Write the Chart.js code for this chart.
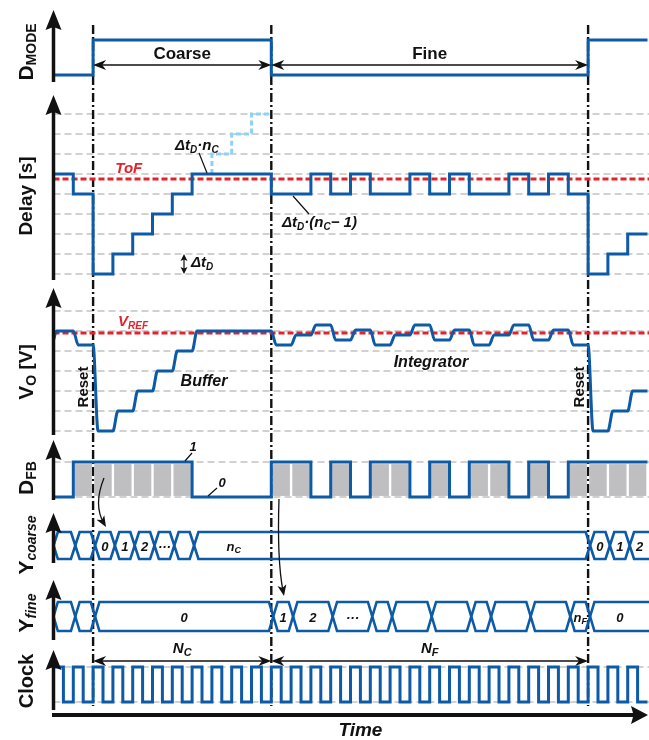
<!DOCTYPE html>
<html>
<head>
<meta charset="utf-8">
<script src="https://cdn.jsdelivr.net/npm/chart.js@4.4.1/dist/chart.umd.min.js"></script>
<style>
  html, body { margin: 0; padding: 0; background: #fff; }
</style>
</head>
<body>
<canvas id="timing" width="649" height="740"></canvas>
<script>
// one value per clock period, t = 0 .. 29
const modeLevels  = [0,0,1,1,1,1,1,1,1,1,1,0,0,0,0,0,0,0,0,0,0,0,0,0,0,0,0,1,1,1];
const delayLevels = [5,4,0,1,2,3,4,5,5,5,5,4,4,5,4,5,4,4,5,4,5,4,4,5,4,5,4,0,1,2];
const overshootPeriods = [8,8,9,10,11];
const overshootLevels  = [5,6,7,8,8];
const tofLevel = 4.75;
const voStart = 4.55;
const voLevels = [5,4.3,0,1,2,3,4,5,5,5,5,4.3,4.8,5.3,4.55,5.05,4.3,4.8,5.3,4.55,5.05,4.3,4.8,5.3,4.55,5.05,4.3,0,1,2];
const vrefLevel = 4.9;
const fbLevels = [0,1,1,1,1,1,1,0,0,0,0,1,1,0,1,0,1,1,0,1,0,1,1,0,1,0,1,1,1,1];
// half periods
const clockLevels = [1,0,1,0,1,0,1,0,1,0,1,0,1,0,1,0,1,0,1,0,1,0,1,0,1,0,1,0,1,0,
                     1,0,1,0,1,0,1,0,1,0,1,0,1,0,1,0,1,0,1,0,1,0,1,0,1,0,1,0,1,0];
// bus values: code changes at each edge, first code is before the first edge
const coarseEdges = [1,2,3,4,5,6,7,27,28,29];
const coarseCodes = ['','','0','1','2','···','','n_C','0','1','2'];
const fineEdges = [1,2,11,12,14,16,17,19,21,22,24,26,27];
const fineCodes = ['','','0','1','2','···','','','','','','','n_F','0'];
const phaseEdges = [2, 11, 27];
const phaseNames = ['Coarse', 'Fine'];
const countNames = ['N_C', 'N_F'];
const delayGrid = [0,1,2,3,4,5,6,7,8];
const voGrid = [0,1,2,3,4,5,6];

// layout
const t0px = 53.5, periodPx = 19.8;
const xMin = -t0px / periodPx, xMax = (649 - t0px) / periodPx;
const rows = {
  mode:   { base: 75,  unit: 35 },
  delay:  { base: 274, unit: 20 },
  vo:     { base: 431, unit: 20 },
  fb:     { base: 497, unit: 35 },
  coarse: { top: 532, bottom: 559 },
  fine:   { top: 602, bottom: 631 },
  clock:  { base: 702, unit: 35 },
};
const lvl = (row, v) => row.base - v * row.unit;
const blue = '#0d5aa7', red = '#e3222c', grid = '#a3a3a3', ink = '#111';
const busHalf = 0.22, busLag = 0.1, ramp = 0.25;
const F = (size, italic) => (italic ? 'italic ' : '') + 'bold ' + size + 'px "Liberation Sans", Arial, sans-serif';

const stepPoints = (levels, row, dx) => {
  const pts = levels.map((v, i) => ({ x: i * dx, y: lvl(row, v) }));
  pts.push({ x: levels.length * dx, y: lvl(row, levels[levels.length - 1]) });
  return pts;
};
const flat = (row, v) => [{ x: 0, y: lvl(row, v) }, { x: xMax, y: lvl(row, v) }];

const voPoints = [{ x: 0, y: lvl(rows.vo, voStart) }, { x: 0.15, y: lvl(rows.vo, voLevels[0]) }];
for (let t = 1; t < voLevels.length; t++) {
  voPoints.push({ x: t, y: lvl(rows.vo, voLevels[t - 1]) }, { x: t + ramp, y: lvl(rows.vo, voLevels[t]) });
}
voPoints.push({ x: voLevels.length, y: lvl(rows.vo, voLevels[voLevels.length - 1]) });

function busLine(edges, row, side) {
  const mid = (row.top + row.bottom) / 2, y = row[side];
  const pts = [{ x: 0, y: mid }, { x: busHalf, y: y }];
  edges.forEach(e => {
    const c = e + busLag;
    pts.push({ x: c - busHalf, y: y }, { x: c, y: mid }, { x: c + busHalf, y: y });
  });
  pts.push({ x: xMax, y: y });
  return pts;
}

const fbBars = [];
fbLevels.forEach((v, t) => {
  if (v) fbBars.push({ x: t + 0.5, y: [lvl(rows.fb, 0.03), lvl(rows.fb, 0.94)] });
});

const line = (data, extra) => Object.assign({
  type: 'line', data: data, borderColor: blue, borderWidth: 3, pointRadius: 0,
  fill: false, tension: 0,
}, extra || {});

function arrowHead(ctx, x, y, ang, len, half, notch) {
  const c = Math.cos(ang), s = Math.sin(ang), n = notch || 0.75;
  ctx.beginPath();
  ctx.moveTo(x, y);
  ctx.lineTo(x - len * c - half * s, y - len * s + half * c);
  ctx.lineTo(x - n * len * c, y - n * len * s);
  ctx.lineTo(x - len * c + half * s, y - len * s - half * c);
  ctx.closePath();
  ctx.fill();
}

function rich(ctx, x, y, parts, align, rot, color) {
  ctx.save();
  ctx.translate(x, y);
  if (rot) ctx.rotate(rot);
  ctx.fillStyle = color || ink;
  ctx.textBaseline = 'middle';
  ctx.textAlign = 'left';
  let w = 0;
  parts.forEach(p => { ctx.font = p[1]; w += ctx.measureText(p[0]).width; });
  let cx = align === 'center' ? -w / 2 : (align === 'right' ? -w : 0);
  parts.forEach(p => {
    ctx.font = p[1];
    ctx.fillText(p[0], cx, p[2] || 0);
    cx += ctx.measureText(p[0]).width;
  });
  ctx.restore();
}

function codeParts(code, size) {
  if (code.indexOf('_') < 0) return [[code, F(size, true)]];
  const s = code.split('_');
  return [[s[0], F(size, true)], [s[1], F(size - 4, true), 3]];
}

const sketch = {
  id: 'sketch',
  beforeDatasetsDraw(chart) {
    const ctx = chart.ctx, X = v => chart.scales.x.getPixelForValue(v), Y = v => chart.scales.y.getPixelForValue(v);
    const right = chart.chartArea.right;
    ctx.save();
    ctx.strokeStyle = grid;
    ctx.lineWidth = 1.2;
    ctx.setLineDash([7, 4]);
    const hline = y => { ctx.beginPath(); ctx.moveTo(X(0), y); ctx.lineTo(right, y); ctx.stroke(); };
    delayGrid.forEach(v => hline(Y(lvl(rows.delay, v))));
    voGrid.forEach(v => hline(Y(lvl(rows.vo, v))));
    [0, 1].forEach(v => { hline(Y(lvl(rows.fb, v))); hline(Y(lvl(rows.clock, v))); });

    ctx.strokeStyle = ink;
    ctx.lineWidth = 2.4;
    ctx.setLineDash([9, 3, 2, 3]);
    phaseEdges.forEach(p => {
      ctx.beginPath(); ctx.moveTo(X(p), Y(25)); ctx.lineTo(X(p), Y(706)); ctx.stroke();
    });
    ctx.restore();
  },
  afterDraw(chart) {
    const ctx = chart.ctx, X = v => chart.scales.x.getPixelForValue(v), Y = v => chart.scales.y.getPixelForValue(v);
    const ax = X(0);
    ctx.save();
    ctx.fillStyle = ink;
    ctx.strokeStyle = ink;

    // panel axes
    ctx.lineWidth = 3.5;
    [[10, 82], [95, 280], [288, 435], [440, 500], [513, 563], [580, 640], [650, 710]].forEach(a => {
      ctx.beginPath(); ctx.moveTo(ax, Y(a[1])); ctx.lineTo(ax, Y(a[0]) + 12); ctx.stroke();
      arrowHead(ctx, ax, Y(a[0]), -Math.PI / 2, 20, 8, 0.85);
    });
    // time axis
    ctx.lineWidth = 4;
    ctx.beginPath(); ctx.moveTo(ax - 1.5, Y(715)); ctx.lineTo(636, Y(715)); ctx.stroke();
    arrowHead(ctx, 648, Y(715), 0, 17, 9, 0.85);
    rich(ctx, X(15.5), Y(731), [['Time', F(19, true)]], 'center');

    // axis titles
    const up = -Math.PI / 2;
    rich(ctx, 27, 52, [['D', F(21)], ['MODE', F(14), 5]], 'center', up);
    rich(ctx, 27, 196, [['Delay [s]', F(19)]], 'center', up);
    rich(ctx, 27, 372, [['V', F(21)], ['O', F(14), 5], [' [V]', F(19)]], 'center', up);
    rich(ctx, 27, 478, [['D', F(21)], ['FB', F(14), 5]], 'center', up);
    rich(ctx, 27, 545, [['Y', F(21)], ['coarse', F(14, true), 5]], 'center', up);
    rich(ctx, 27, 613, [['Y', F(21)], ['fine', F(14, true), 5]], 'center', up);
    rich(ctx, 27, 681, [['Clock', F(20)]], 'center', up);

    // phase and count arrows
    ctx.lineWidth = 1.5;
    const dim = (x1, x2, y) => {
      ctx.beginPath(); ctx.moveTo(x1 + 4, y); ctx.lineTo(x2 - 4, y); ctx.stroke();
      arrowHead(ctx, x1, y, Math.PI, 13, 5, 0.7);
      arrowHead(ctx, x2, y, 0, 13, 5, 0.7);
    };
    for (let i = 0; i < 2; i++) {
      const a = X(phaseEdges[i]), b = X(phaseEdges[i + 1]), c = (a + b) / 2;
      dim(a, b, Y(65));
      rich(ctx, c, Y(54), [[phaseNames[i], F(17)]], 'center');
      dim(a, b, Y(661));
      const n = countNames[i].split('_');
      rich(ctx, c, Y(649), [[n[0], F(15, true)], [n[1], F(11, true), 4]], 'center');
    }

    // delay panel notes
    rich(ctx, X(3.8), Y(169), [['ToF', F(15, true)]], 'center', 0, red);
    rich(ctx, 175, Y(146), [['\u0394t', F(15, true)], ['D', F(10, true), 4], ['\u00b7n', F(15, true)], ['C', F(10, true), 4]], 'left');
    rich(ctx, 282, Y(223), [['\u0394t', F(15, true)], ['D', F(10, true), 4], ['\u00b7(n', F(15, true)], ['C', F(10, true), 4], ['\u2212 1)', F(15, true)]], 'left');
    rich(ctx, 191, Y(263), [['\u0394t', F(15, true)], ['D', F(10, true), 4]], 'left');
    ctx.lineWidth = 1.2;
    ctx.beginPath();
    ctx.moveTo(199, Y(153)); ctx.lineTo(207, Y(173));
    ctx.moveTo(293, Y(196)); ctx.lineTo(309, Y(214));
    ctx.moveTo(184, Y(258)); ctx.lineTo(184, Y(270));
    ctx.stroke();
    arrowHead(ctx, 184, Y(254), -Math.PI / 2, 7, 3.5, 0.8);
    arrowHead(ctx, 184, Y(274), Math.PI / 2, 7, 3.5, 0.8);

    // V_O notes
    rich(ctx, 118, Y(322), [['V', F(15, true)], ['REF', F(10, true), 4]], 'left', 0, red);
    rich(ctx, 84, Y(387), [['Reset', F(15)]], 'center', up);
    rich(ctx, 580, Y(387), [['Reset', F(15)]], 'center', up);
    rich(ctx, 204, Y(382), [['Buffer', F(16, true)]], 'center');
    rich(ctx, 431, Y(363), [['Integrator', F(16, true)]], 'center');

    // D_FB notes
    ctx.lineWidth = 1.2;
    ctx.beginPath();
    ctx.moveTo(185, Y(461)); ctx.lineTo(192, Y(453));
    ctx.moveTo(208, Y(496)); ctx.lineTo(217, Y(488));
    ctx.stroke();
    rich(ctx, 193, Y(447), [['1', F(13, true)]], 'center');
    rich(ctx, 222, Y(483), [['0', F(13, true)]], 'center');

    // bus codes
    [[coarseEdges, coarseCodes, rows.coarse], [fineEdges, fineCodes, rows.fine]].forEach(b => {
      const edges = [0].concat(b[0]);
      edges.forEach((s, i) => {
        const code = b[1][i];
        if (!code) return;
        let e = i + 1 < edges.length ? edges[i + 1] : 30;
        const stop = phaseEdges.find(p => p > s + 0.01);
        if (stop !== undefined && stop < e) e = stop;
        const mid = (b[2].top + b[2].bottom) / 2;
        rich(ctx, X((s + e) / 2 + busLag), Y(mid + 2), codeParts(code, 13), 'center');
      });
    });

    // cause arrows
    ctx.lineWidth = 1.3;
    const curved = (x1, y1, cx, cy, x2, y2) => {
      ctx.beginPath(); ctx.moveTo(x1, y1); ctx.quadraticCurveTo(cx, cy, x2 - (x2 - cx) * 0.15, y2 - (y2 - cy) * 0.15); ctx.stroke();
      arrowHead(ctx, x2, y2, Math.atan2(y2 - cy, x2 - cx), 11, 4.5, 0.75);
    };
    curved(104, Y(478), 93, Y(505), 106, Y(527));
    curved(279, Y(499), 277, Y(560), 284, Y(596));
    ctx.restore();
  }
};

new Chart(document.getElementById('timing'), {
  type: 'line',
  data: {
    datasets: [
      line(stepPoints(delayLevels, rows.delay, 1), { stepped: true }),
      line(overshootPeriods.map((t, i) => ({ x: t, y: lvl(rows.delay, overshootLevels[i]) })),
        { stepped: true, borderColor: '#8dd2f2', borderDash: [5, 3] }),
      line(stepPoints(modeLevels, rows.mode, 1), { stepped: true }),
      line(voPoints, { cubicInterpolationMode: 'monotone' }),
      line(stepPoints(fbLevels, rows.fb, 1), { stepped: true }),
      line(busLine(coarseEdges, rows.coarse, 'top'), { borderWidth: 2.6 }),
      line(busLine(coarseEdges, rows.coarse, 'bottom'), { borderWidth: 2.6 }),
      line(busLine(fineEdges, rows.fine, 'top'), { borderWidth: 2.6 }),
      line(busLine(fineEdges, rows.fine, 'bottom'), { borderWidth: 2.6 }),
      line(stepPoints(clockLevels, rows.clock, 0.5), { stepped: true }),
      line(flat(rows.delay, tofLevel), { borderColor: red, borderDash: [6, 3] }),
      line(flat(rows.vo, vrefLevel), { borderColor: red, borderDash: [6, 3] }),
      {
        type: 'bar', data: fbBars, backgroundColor: '#bfbfc2', borderWidth: 0,
        barPercentage: 0.88, categoryPercentage: 1.0,
      },
    ],
  },
  options: {
    responsive: false,
    animation: false,
    events: [],
    layout: { padding: 0 },
    plugins: { legend: { display: false }, tooltip: { enabled: false } },
    scales: {
      x: { type: 'linear', min: xMin, max: xMax, offset: false, display: false },
      y: { type: 'linear', min: 0, max: 740, reverse: true, display: false },
    },
  },
  plugins: [sketch],
});
</script>
</body>
</html>
